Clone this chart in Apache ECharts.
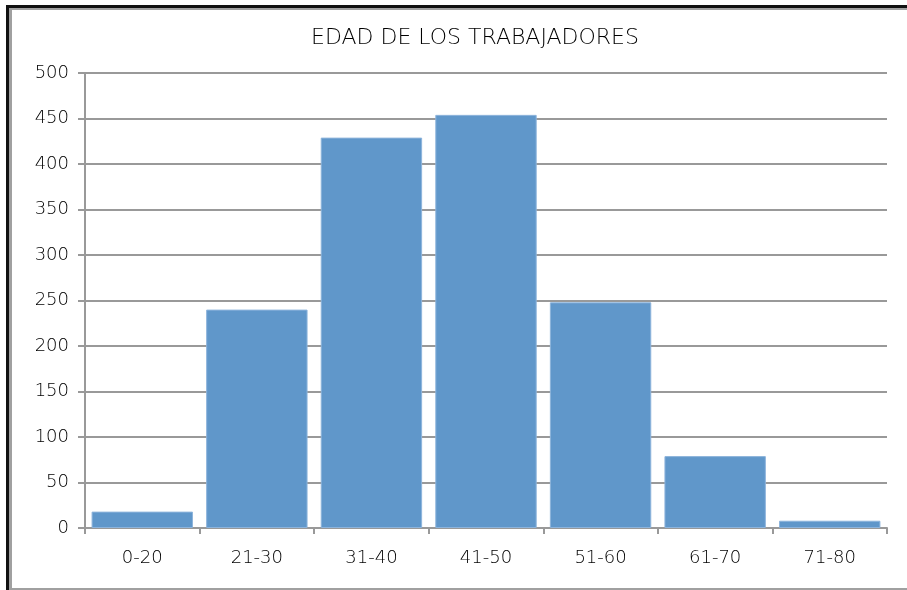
<!DOCTYPE html>
<html>
<head>
<meta charset="utf-8">
<script src="https://cdn.jsdelivr.net/npm/echarts@6/dist/echarts.min.js"></script>
<style>
  html, body { margin: 0; padding: 0; background: #fff; }
  #wrap { position: relative; width: 907px; height: 590px; overflow: hidden; background: #fff; }
  .b { position: absolute; }
  #chart { position: absolute; left: 0; top: 0; width: 907px; height: 590px; }
</style>
</head>
<body>
<div id="wrap">
  <!-- marco: negro arriba/izquierda, gris por dentro y abajo -->
  <div class="b" style="left:6px;top:5px;width:901px;height:3px;background:#111"></div>
  <div class="b" style="left:6px;top:5px;width:3px;height:585px;background:#111"></div>
  <div class="b" style="left:9px;top:8px;width:898px;height:2px;background:#a0a0a0"></div>
  <div class="b" style="left:9px;top:8px;width:3px;height:582px;background:#a0a0a0"></div>
  <div class="b" style="left:9px;top:588px;width:898px;height:2px;background:#a0a0a0"></div>
  <div id="chart"></div>
</div>
<script>
// edades y numero de trabajadores
var categorias = ['0-20', '21-30', '31-40', '41-50', '51-60', '61-70', '71-80'];
var trabajadores = [18, 240, 429, 454, 248, 79, 8];
var yTicks = { min: 0, max: 500, step: 50 };

var fuente = "'DejaVu Sans', sans-serif";
var gris = '#999';

var myChart = echarts.init(document.getElementById('chart'));
var option = {
    animation: false,
    title: {
        text: 'EDAD DE LOS TRABAJADORES',
        left: 470,
        top: 22,
        textAlign: 'center',
        textStyle: { fontFamily: fuente, fontSize: 22, fontWeight: 200, color: '#000' }
    },
    grid: { left: 85, right: 20, top: 73, bottom: 62, containLabel: false },
    xAxis: {
        type: 'category',
        data: categorias,
        boundaryGap: true,
        axisLine: { lineStyle: { color: gris, width: 2 } },
        axisTick: { show: true, length: 6, lineStyle: { color: gris, width: 2 } },
        axisLabel: { fontFamily: fuente, fontSize: 18, fontWeight: 200, color: '#000', margin: 21 }
    },
    yAxis: {
        type: 'value',
        min: yTicks.min,
        max: yTicks.max,
        interval: yTicks.step,
        axisLine: { show: true, lineStyle: { color: gris, width: 2 } },
        axisTick: { show: true, length: 7, lineStyle: { color: gris, width: 2 } },
        axisLabel: { fontFamily: fuente, fontSize: 18, fontWeight: 200, color: '#000', margin: 16 },
        splitLine: { lineStyle: { color: gris, width: 2 } }
    },
    series: [{
        type: 'bar',
        data: trabajadores,
        barCategoryGap: '11.5%',
        itemStyle: { color: '#6097CA', borderColor: '#8db4dc', borderWidth: 1 }
    }]
};
myChart.setOption(option);
</script>
</body>
</html>
